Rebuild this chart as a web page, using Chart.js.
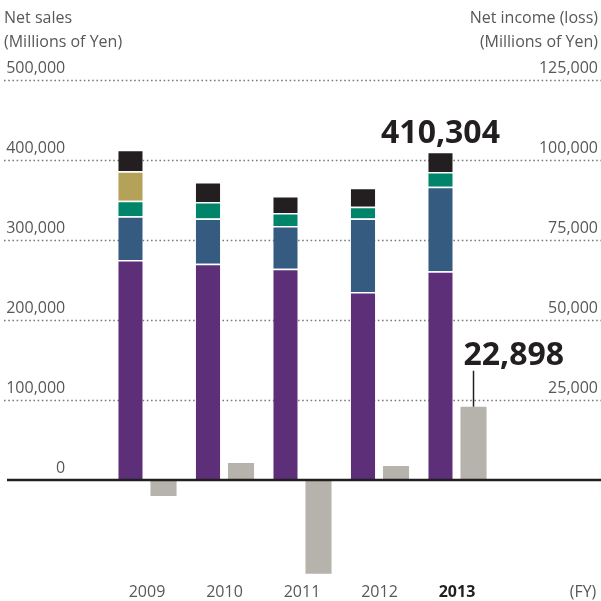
<!DOCTYPE html>
<html>
<head>
<meta charset="utf-8">
<script src="https://cdn.jsdelivr.net/npm/chart.js@4/dist/chart.umd.min.js"></script>
<style>
html,body{margin:0;padding:0;background:#fff;}
#wrap{width:601px;height:601px;}
</style>
</head>
<body>
<div id="wrap"><canvas id="c" width="601" height="601"></canvas></div>
<script>
// ---- data ----
const years = ['2009', '2010', '2011', '2012', '2013'];
const salesSeg1 = [275000, 270400, 264200, 235000, 261000];   // purple
const salesSeg2 = [54600, 56600, 53300, 92000, 105700];        // blue
const salesSeg3 = [19600, 20500, 16200, 14700, 18300];         // teal
const salesSeg4 = [36600, null, null, null, null];             // olive
const salesSeg5 = [27100, 25000, 21300, 23700, 25304];         // black
const netIncome = [-5000, 5300, -29300, 4400, 22898];
const leftTicks = [0, 100000, 200000, 300000, 400000, 500000];
const rightTicks = [25000, 50000, 75000, 100000, 125000];
const salesTotalLabel = '410,304';
const incomeLabel = '22,898';

const FONT = '"Open Sans", sans-serif';
const TXT = '#585858';
const fmt = v => v.toLocaleString('en-US');

const extras = {
  id: 'extras',
  beforeDatasetsDraw(chart) {
    const ctx = chart.ctx, y = chart.scales.y;
    ctx.save();
    ctx.strokeStyle = '#7a7a7a';
    ctx.lineWidth = 1.6;
    ctx.setLineDash([1.6, 2.6]);
    leftTicks.forEach(v => {
      if (v === 0) return;
      const py = Math.round(y.getPixelForValue(v)) + 0.5;
      ctx.beginPath(); ctx.moveTo(4, py); ctx.lineTo(601, py); ctx.stroke();
    });
    ctx.restore();
  },
  afterDatasetsDraw(chart) {
    const ctx = chart.ctx, y = chart.scales.y;
    ctx.save();
    const zy = y.getPixelForValue(0);
    ctx.strokeStyle = '#231f20';
    ctx.lineWidth = 2.5;
    ctx.beginPath(); ctx.moveTo(7, zy); ctx.lineTo(601, zy); ctx.stroke();

    ctx.fillStyle = TXT;
    ctx.font = '16px ' + FONT;
    ctx.textBaseline = 'middle';
    ctx.textAlign = 'left';
    ctx.fillText('Net sales', 4, 18);
    ctx.fillText('(Millions of Yen)', 4, 42);
    ctx.textAlign = 'right';
    ctx.fillText('Net income (loss)', 598, 18);
    ctx.fillText('(Millions of Yen)', 598, 42);
    ctx.textAlign = 'center';
    ctx.fillText('(FY)', 583, chart.scales.x.top + 12);

    const last = years.length - 1;
    const topBar = chart.getDatasetMeta(4).data[last];
    ctx.fillStyle = '#231f20';
    ctx.font = 'bold 32px ' + FONT;
    ctx.textAlign = 'center';
    ctx.textBaseline = 'alphabetic';
    ctx.fillText(salesTotalLabel, topBar.x, topBar.y - 9);

    const incBar = chart.getDatasetMeta(5).data[last];
    ctx.textAlign = 'left';
    ctx.fillText(incomeLabel, incBar.x - 10, incBar.y - 42);
    ctx.strokeStyle = '#231f20';
    ctx.lineWidth = 1.5;
    ctx.beginPath();
    ctx.moveTo(incBar.x, incBar.y - 36);
    ctx.lineTo(incBar.x, incBar.y);
    ctx.stroke();
    ctx.restore();
  }
};

const segStyle = (data, color) => ({
  data, backgroundColor: color, borderColor: '#ffffff', borderWidth: {top: 1.5, bottom: 0, left: 0, right: 0},
  borderSkipped: false, stack: 'sales', yAxisID: 'y',
  categoryPercentage: 0.852, barPercentage: 0.74
});

new Chart(document.getElementById('c'), {
  type: 'bar',
  data: {
    labels: years,
    datasets: [
      segStyle(salesSeg1, '#5e2f79'),
      segStyle(salesSeg2, '#355b81'),
      segStyle(salesSeg3, '#00856b'),
      segStyle(salesSeg4, '#b3a257'),
      segStyle(salesSeg5, '#231f20'),
      { data: netIncome, backgroundColor: '#b5b3ab', borderWidth: 0, stack: 'income', yAxisID: 'y1',
        categoryPercentage: 0.852, barPercentage: 0.79 }
    ]
  },
  options: {
    responsive: false,
    animation: false,
    devicePixelRatio: 1,
    layout: { padding: { top: 80, left: 0, right: 3, bottom: 0 } },
    plugins: { legend: { display: false }, tooltip: { enabled: false } },
    scales: {
      x: {
        grid: { display: false, drawTicks: false },
        border: { display: false },
        afterFit: s => { s.height = 21; s.paddingLeft = 0; s.paddingRight = 0; },
        ticks: {
          padding: 3,
          font: ctx => ({ family: FONT, size: 16, weight: ctx.tick && ctx.tick.label === '2013' ? 'bold' : 'normal' }),
          color: ctx => ctx.tick && ctx.tick.label === '2013' ? '#231f20' : TXT
        }
      },
      y: {
        position: 'left', stacked: true, min: -125000, max: 500000,
        grid: { display: false, drawTicks: false },
        border: { display: false },
        afterBuildTicks: s => { s.ticks = leftTicks.map(v => ({ value: v })); },
        afterFit: s => { s.width = 108.25; s.paddingTop = 0; s.paddingBottom = 0; },
        ticks: { padding: 43, crossAlign: 'near', labelOffset: -12, color: TXT,
          font: { family: FONT, size: 16 }, callback: v => fmt(v) }
      },
      y1: {
        position: 'right', stacked: true, min: -31250, max: 125000,
        grid: { display: false, drawTicks: false },
        border: { display: false },
        afterBuildTicks: s => { s.ticks = rightTicks.map(v => ({ value: v })); },
        afterFit: s => { s.width = 102.25; s.paddingTop = 0; s.paddingBottom = 0; },
        ticks: { crossAlign: 'far', labelOffset: -12, color: TXT,
          font: { family: FONT, size: 16 }, callback: v => fmt(v) }
      }
    }
  },
  plugins: [extras]
});
</script>
</body>
</html>
